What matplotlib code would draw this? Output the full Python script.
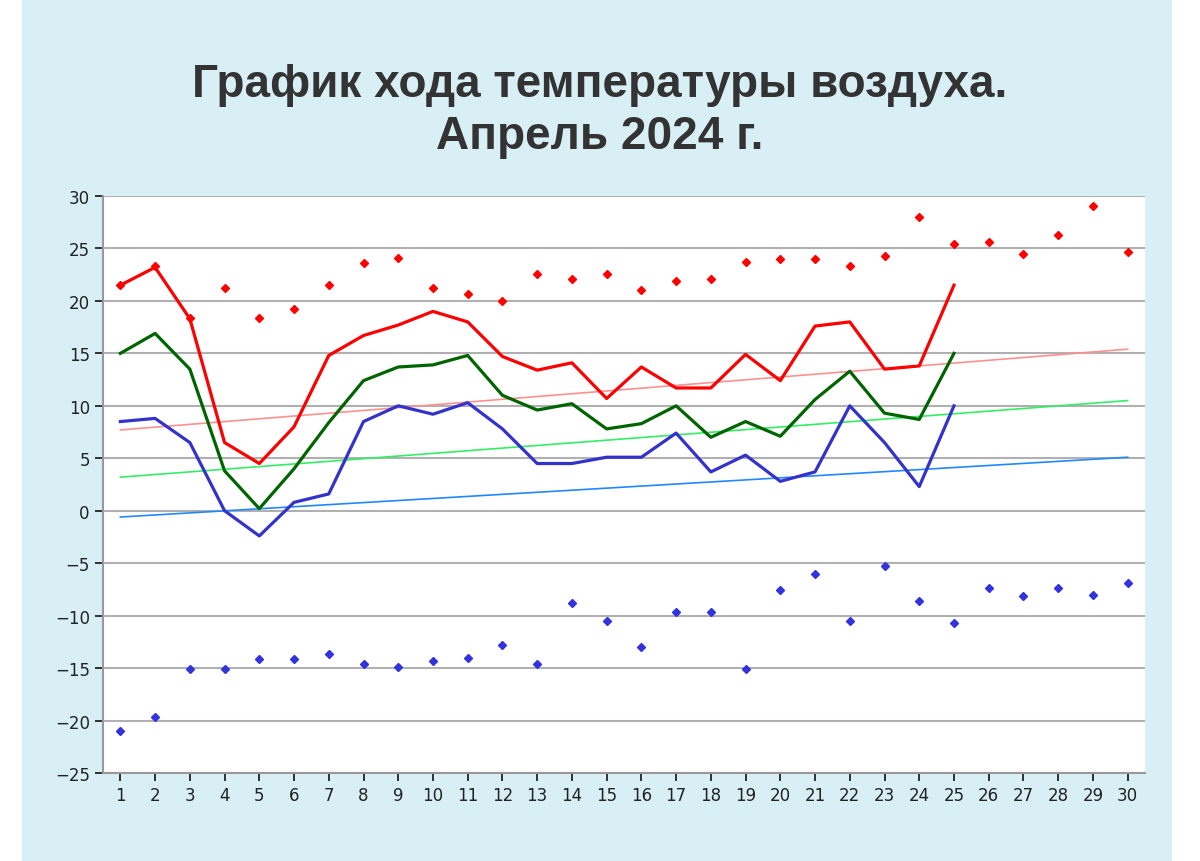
import matplotlib
matplotlib.use("Agg")
import matplotlib.pyplot as plt
from matplotlib.patches import Rectangle

PANEL = "#d8eff6"

days = list(range(1, 31))
t_max = [21.5, 23.2, 18.3, 6.5, 4.5, 8.0, 14.8, 16.7, 17.7, 19.0, 18.0, 14.7, 13.4,
         14.1, 10.7, 13.7, 11.7, 11.7, 14.9, 12.4, 17.6, 18.0, 13.5, 13.8, 21.5]
t_mean = [15.0, 16.9, 13.5, 3.8, 0.2, 4.0, 8.4, 12.4, 13.7, 13.9, 14.8, 11.0, 9.6,
          10.2, 7.8, 8.3, 10.0, 7.0, 8.5, 7.1, 10.6, 13.3, 9.3, 8.7, 15.0]
t_min = [8.5, 8.8, 6.5, 0.0, -2.4, 0.8, 1.6, 8.5, 10.0, 9.2, 10.3, 7.8, 4.5,
         4.5, 5.1, 5.1, 7.4, 3.7, 5.3, 2.8, 3.7, 10.0, 6.5, 2.3, 10.0]
rec_max = [21.5, 23.3, 18.4, 21.2, 18.4, 19.2, 21.5, 23.6, 24.1, 21.2, 20.7, 20.0,
           22.6, 22.1, 22.6, 21.0, 21.9, 22.1, 23.7, 24.0, 24.0, 23.3, 24.3, 28.0,
           25.4, 25.6, 24.5, 26.3, 29.0, 24.7]
rec_min = [-21.0, -19.7, -15.1, -15.1, -14.1, -14.1, -13.7, -14.6, -14.9, -14.3,
           -14.0, -12.8, -14.6, -8.8, -10.5, -13.0, -9.7, -9.7, -15.1, -7.6, -6.0,
           -10.5, -5.3, -8.6, -10.7, -7.4, -8.1, -7.4, -8.0, -6.9]
norm_max = [7.7, 15.4]
norm_mean = [3.2, 10.5]
norm_min = [-0.6, 5.1]

fig = plt.figure(figsize=(12, 8.62), dpi=100)
fig.patch.set_facecolor("white")
fig.patches.append(Rectangle((22 / 1200, 0), 1150 / 1200, 1, transform=fig.transFigure,
                             facecolor=PANEL, edgecolor="none", zorder=-10))

ax = fig.add_axes([103 / 1200, 1 - 774 / 862, (1145 - 103) / 1200, (774 - 197) / 862])
ax.set_facecolor("white")

ax.plot(days[:25], t_max, color="#ff0000", lw=2.3, zorder=5)
ax.plot(days[:25], t_mean, color="#006400", lw=2.3, zorder=5)
ax.plot(days[:25], t_min, color="#3333cc", lw=2.3, zorder=5)
ax.plot([days[0], days[-1]], norm_max, color="#ff9090", lw=1.2, zorder=4)
ax.plot([days[0], days[-1]], norm_mean, color="#33ee66", lw=1.2, zorder=4)
ax.plot([days[0], days[-1]], norm_min, color="#2288ff", lw=1.2, zorder=4)
ax.plot(days, rec_max, "D", color="#ff0000", ms=4, ls="none", zorder=6)
ax.plot(days, rec_min, "D", color="#3333dd", ms=4, ls="none", zorder=6)

ax.set_xlim(0.5, 30.5)
ax.set_ylim(-25, 30)
ax.set_xticks(days)
ax.set_yticks(range(-25, 31, 5))
ax.set_yticklabels([str(v).replace("-", "\u2212") for v in range(-25, 31, 5)])
ax.grid(axis="y", color="#b0b0b0", lw=1.5)
ax.set_axisbelow(True)
for s in ["top", "right"]:
    ax.spines[s].set_visible(False)
for s in ["left", "bottom"]:
    ax.spines[s].set_color("#999999")
    ax.spines[s].set_linewidth(1.5)
ax.tick_params(axis="both", colors="#222222", labelsize=12, length=6, width=1.3)

title_font = dict(ha="center", va="center", fontsize=33, fontweight="bold",
                  color="#333333", family="Liberation Sans")
fig.text(0.5, 1 - 85 / 862, "График хода температуры воздуха.", **title_font)
fig.text(0.5, 1 - 137 / 862, "Апрель 2024 г.", **title_font)

fig.savefig("out.png", dpi=100)
